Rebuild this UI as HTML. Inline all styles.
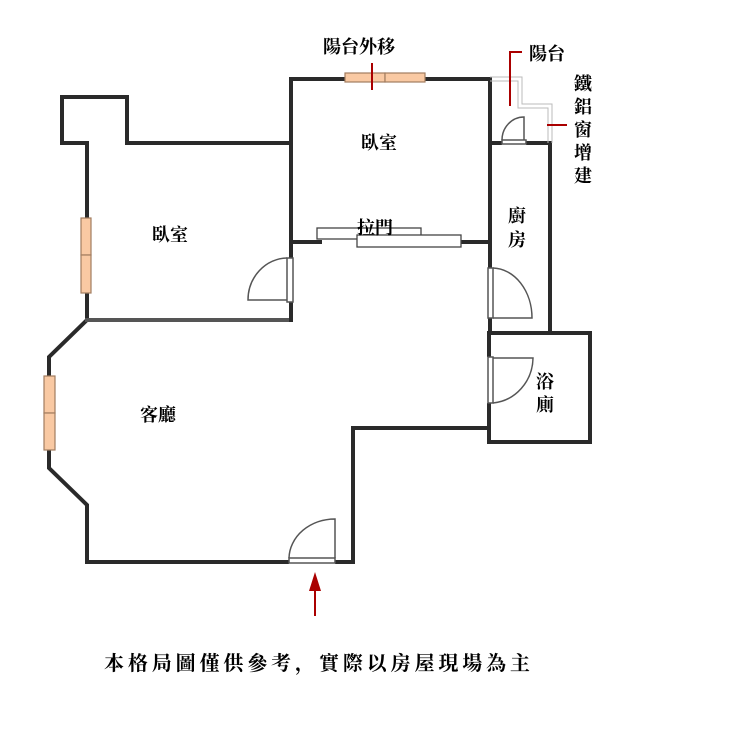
<!DOCTYPE html>
<html><head><meta charset="utf-8"><style>
html,body{margin:0;padding:0;background:#fff;width:752px;height:734px;overflow:hidden}
svg{display:block}
text{font-family:"Liberation Serif","Noto Serif CJK SC","Noto Sans CJK TC",serif;font-weight:bold;fill:#000}
</style></head><body>
<svg width="752" height="734" viewBox="0 0 752 734" xmlns="http://www.w3.org/2000/svg">
<g fill="none" stroke="#2a2a2a" stroke-width="4" stroke-linecap="square">
<polyline points="87,143 62,143 62,97 127,97 127,143 291,143"/>
<line x1="87" y1="143" x2="87" y2="320"/>
<polyline points="87,320 49,357 49,468 87,505 87,562 353,562 353,428 489,428"/>
<line x1="87" y1="320" x2="291" y2="320" stroke="#555"/>
<line x1="291" y1="79" x2="291" y2="320"/>
<line x1="291" y1="79" x2="490" y2="79"/>
<line x1="490" y1="79" x2="490" y2="333"/>
<line x1="291" y1="242" x2="320" y2="242"/>
<line x1="461" y1="242" x2="490" y2="242"/>
<line x1="490" y1="143" x2="550" y2="143"/>
<line x1="550" y1="143" x2="550" y2="333"/>
<rect x="489" y="333" width="101" height="109"/>
</g>
<g fill="#fff" stroke="none">
<rect x="280" y="258" width="20" height="44"/>
<rect x="484" y="268" width="12" height="50"/>
<rect x="484" y="357" width="12" height="46"/>
<rect x="289" y="556" width="46" height="12"/>
<rect x="502" y="137" width="24" height="12"/>
</g>
<g fill="#f9c9a3" stroke="#a27d60" stroke-width="1.2">
<rect x="345" y="73" width="40" height="9"/><rect x="385" y="73" width="40" height="9"/>
<rect x="81" y="218" width="10" height="37"/><rect x="81" y="255" width="10" height="38"/>
<rect x="44" y="376" width="11" height="37"/><rect x="44" y="413" width="11" height="37"/>
</g>
<g fill="#fff" stroke="#444" stroke-width="1.3">
<rect x="317" y="228" width="104" height="11"/>
<rect x="357" y="235" width="104" height="12"/>
</g>
<g fill="none" stroke="#555" stroke-width="1.5">
<rect x="287" y="258" width="6" height="44" fill="#fff"/>
<path d="M287,258 A40,42 0 0 0 248,300 L287,300"/>
<rect x="488" y="268" width="5" height="50" fill="#fff"/>
<path d="M493,318 L532,318 A40,50 0 0 0 493,268"/>
<rect x="488" y="357" width="5" height="46" fill="#fff"/>
<path d="M493,403 A44,46 0 0 0 533,358 L493,358"/>
<rect x="289" y="558" width="46" height="5" fill="#fff"/>
<path d="M335,558 L335,519 A46,40 0 0 0 289,558"/>
<rect x="502" y="140" width="24" height="4" fill="#fff"/>
<path d="M524,140 L524,117 A22,23 0 0 0 502,140"/>
</g>
<g fill="none" stroke="#bbb" stroke-width="1">
<polyline points="490,77 522,77 522,104 552,104 552,143"/>
<polyline points="490,81 518,81 518,108 548,108 548,143"/>
</g>
<g stroke="#a00" stroke-width="2" fill="none">
<line x1="372" y1="63" x2="372" y2="90"/>
<polyline points="522,52 510,52 510,106"/>
<line x1="547" y1="125" x2="567" y2="125"/>
<line x1="315" y1="590" x2="315" y2="616"/>
</g>
<polygon points="315,572 309,591 321,591" fill="#a00"/>
<g font-size="18">
<text x="323" y="53">陽台外移</text>
<text x="529" y="60">陽台</text>
<text x="574" y="90">鐵</text><text x="574" y="113">鋁</text><text x="574" y="136">窗</text><text x="574" y="159">增</text><text x="574" y="182">建</text>
<text x="361" y="149">臥室</text>
<text x="357" y="234">拉門</text>
<text x="508" y="222">廚</text><text x="508" y="246">房</text>
<text x="536" y="388">浴</text><text x="536" y="411">廁</text>
<text x="152" y="241">臥室</text>
<text x="140" y="421">客廳</text>
<text x="104" y="670" font-size="20" textLength="426" lengthAdjust="spacing">本格局圖僅供參考，實際以房屋現場為主</text>
</g>
</svg>
</body></html>
